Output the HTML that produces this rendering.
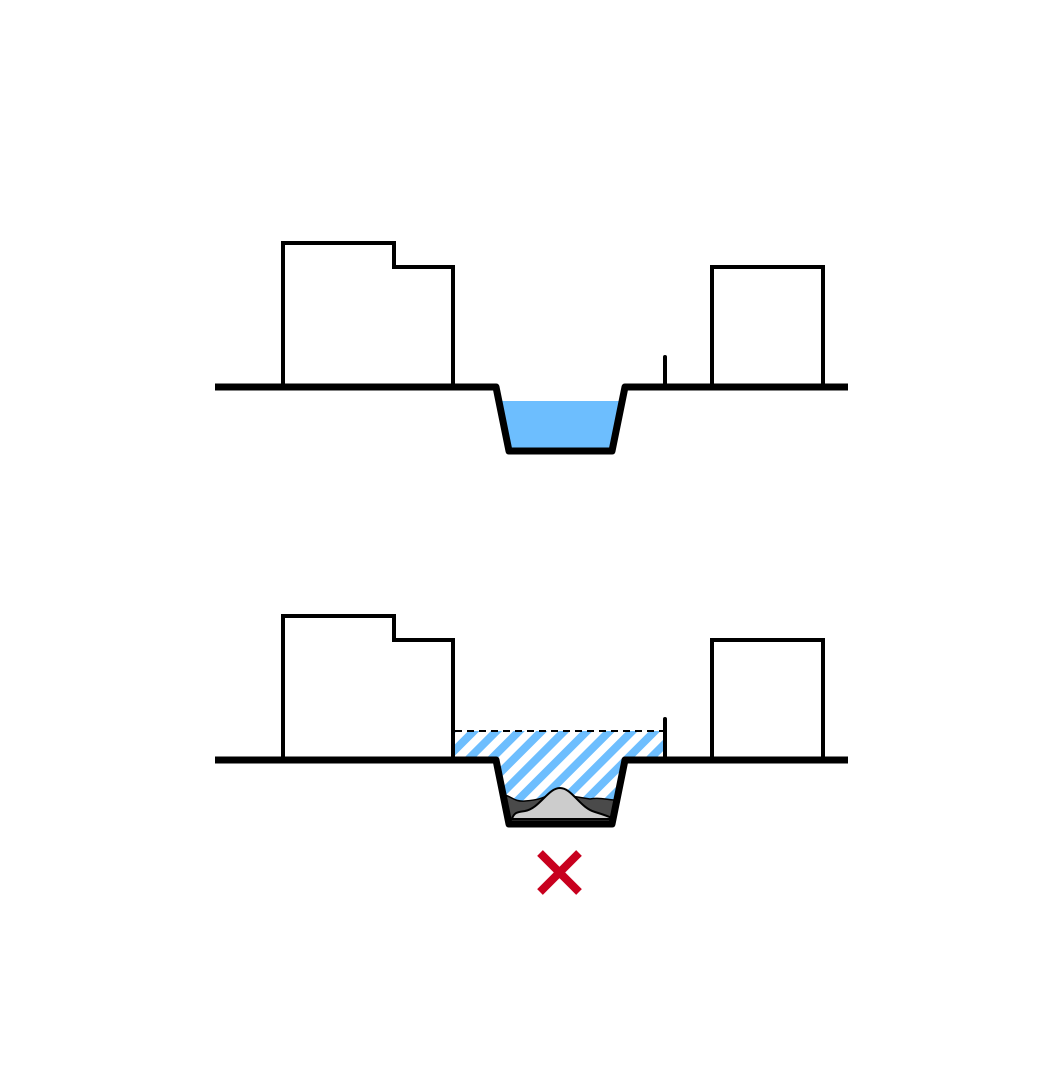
<!DOCTYPE html>
<html><head><style>html,body{margin:0;padding:0;background:#fff;}</style></head>
<body>
<svg width="1064" height="1063" viewBox="0 0 1064 1063" xmlns="http://www.w3.org/2000/svg">
<defs>
<pattern id="h" patternUnits="userSpaceOnUse" width="16" height="16" patternTransform="rotate(45)">
<rect x="0" y="0" width="8" height="16" fill="#6dbefe"/>
</pattern>
<clipPath id="ch"><polygon points="453,731 665,731 665,760 625,760 612,824 509,824 496,760 453,760"/></clipPath>
</defs>
<!-- TOP -->
<polygon points="500,401 621,401 612,451 509,451" fill="#6dbefe"/>
<polyline points="215,387 496,387 509,451 612,451 625,387 848,387" fill="none" stroke="#000" stroke-width="7" stroke-linejoin="round"/>
<polyline points="283,387 283,243 394,243 394,267 453,267 453,387" fill="none" stroke="#000" stroke-width="4"/>
<rect x="712" y="267" width="111" height="120" fill="none" stroke="#000" stroke-width="4"/>
<line x1="665" y1="357" x2="665" y2="387" stroke="#000" stroke-width="4" stroke-linecap="round"/>
<!-- BOTTOM -->
<rect x="453" y="731" width="212" height="95" fill="url(#h)" clip-path="url(#ch)"/>
<path d="M505,795 C512,797 515,802 525,801 C540,800 545,797 552,793 L590,799 C600,797 608,800 616,800 L612,824 L509,824 Z" fill="#4a4a4a" stroke="#000" stroke-width="1.5"/>
<path d="M512,819 C514,812 518,812 525,811 C540,808 548,788 560,788 C572,788 580,808 595,812 C605,815 610,817 614,819 Z" fill="#cccccc" stroke="#000" stroke-width="2"/>
<line x1="455" y1="731" x2="665" y2="731" stroke="#000" stroke-width="2" stroke-dasharray="7,5"/>
<polyline points="215,760 496,760 509,824 612,824 625,760 848,760" fill="none" stroke="#000" stroke-width="7" stroke-linejoin="round"/>
<polyline points="283,760 283,616 394,616 394,640 453,640 453,760" fill="none" stroke="#000" stroke-width="4"/>
<rect x="712" y="640" width="111" height="120" fill="none" stroke="#000" stroke-width="4"/>
<line x1="665" y1="719" x2="665" y2="760" stroke="#000" stroke-width="4" stroke-linecap="round"/>
<g stroke="#c8001e" stroke-width="8">
<line x1="540" y1="853" x2="579" y2="892"/>
<line x1="579" y1="853" x2="540" y2="892"/>
</g>
</svg>
</body></html>
